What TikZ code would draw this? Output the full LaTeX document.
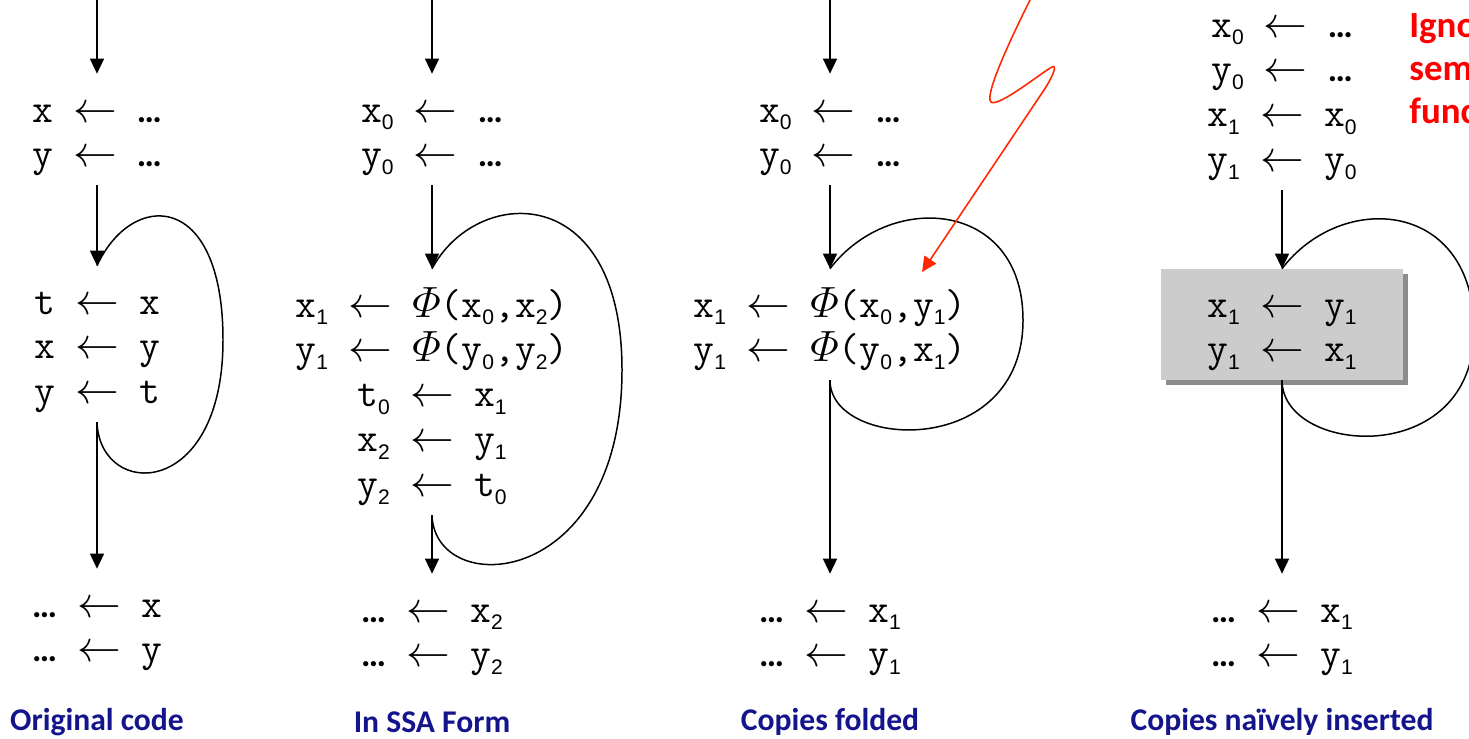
\documentclass[tikz,border=0pt]{standalone}
\usepackage{amsmath}
\usepackage{fontspec}
\usetikzlibrary{arrows.meta,shadows}
\newfontfamily\labelfont{Carlito}
\newfontfamily\subfont{Liberation Sans}
\definecolor{navy}{RGB}{20,20,140}
\definecolor{boltred}{RGB}{255,40,0}
\definecolor{boxgray}{RGB}{204,204,204}
\newcommand\idx[1]{\raisebox{-4.5pt}{\fontsize{12}{12}\selectfont\subfont #1}}
\newcommand\asg{\hspace{0.5em}$\leftarrow$\hspace{0.5em}}
\newcommand\elide{{\fontsize{20}{20}\selectfont\labelfont\bfseries\char"2026}}
\newcommand\blk[1]{\begin{tabular}[t]{@{}c@{}}#1\end{tabular}}
\tikzset{
  code/.style={font=\fontsize{23}{25.6}\selectfont\ttfamily, anchor=base,
    inner xsep=2pt, inner ysep=0pt, text height=0.96cm, text depth=#1},
  flow/.style={-{Triangle[width=0.28cm,length=0.3cm]}, line width=0.85pt},
  backedge/.style={line width=0.85pt},
  shaded/.style={fill=boxgray, minimum width=4.84cm,
    drop shadow={shadow xshift=3pt, shadow yshift=-3pt, fill=black, opacity=0.45}},
  caption/.style={font=\fontsize{18}{20}\selectfont\labelfont\bfseries, text=navy},
  note/.style={font=\fontsize{21}{24.6}\selectfont\labelfont\bfseries, text=red,
    anchor=base west, inner sep=0pt},
  bolt/.style={draw=boltred, line width=0.9pt, -{Triangle[width=0.28cm,length=0.3cm]}}
}
\begin{document}
\begin{tikzpicture}[x=0.02cm,y=-0.02cm]
  \useasboundingbox (0,0) rectangle (1469,738);
  \clip (0,0) rectangle (1469,738);

  % Original code
  \begin{scope}[shift={(97,0)}]
    \coordinate (o-top) at (0,0);
    \node[code=1.26cm] (o-in) at (0,122) {\blk{x\asg\elide\\ y\asg\elide}};
    \node[code=2.16cm] (o-body) at (0,314) {\blk{t\asg x\\ x\asg y\\ y\asg t}};
    \node[code=1.26cm] (o-out) at (0,617) {\blk{\elide\asg x\\ \elide\asg y}};
    \draw[flow] (o-top) -- (o-in);
    \draw[flow] (o-in) -- (o-body);
    \draw[flow] (o-body) -- (o-out);
    \draw[backedge] (o-body.south) .. controls (3,500) and (126,500) .. (126,340)
      .. controls (126,190) and (35,190) .. (o-body.north);
    \node[caption] (o-cap) at (0,722) {Original code};
  \end{scope}

  % In SSA form
  \begin{scope}[shift={(432,0)}]
    \coordinate (s-top) at (0,0);
    \node[code=1.26cm] (s-in) at (0,122) {\blk{x\idx0\asg\elide\\ y\idx0\asg\elide}};
    \node[code=3.96cm] (s-body) at (0,317) {\blk{x\idx1\asg$\varPhi$(x\idx0,x\idx2)\\
      y\idx1\asg$\varPhi$(y\idx0,y\idx2)\\ t\idx0\asg x\idx1\\ x\idx2\asg y\idx1\\ y\idx2\asg t\idx0}};
    \node[code=1.26cm] (s-out) at (0,622) {\blk{\elide\asg x\idx2\\ \elide\asg y\idx2}};
    \draw[flow] (s-top) -- (s-in);
    \draw[flow] (s-in) -- (s-body);
    \draw[flow] (s-body) -- (s-out);
    \draw[backedge] (s-body.south) .. controls (3,600) and (190,590) .. (190,370)
      .. controls (190,180) and (45,185) .. (s-body.north);
    \node[caption] (s-cap) at (0,722) {In SSA Form};
  \end{scope}

  % Copies folded
  \begin{scope}[shift={(830,0)}]
    \coordinate (f-top) at (0,0);
    \node[code=1.26cm] (f-in) at (0,122) {\blk{x\idx0\asg\elide\\ y\idx0\asg\elide}};
    \node[code=1.26cm] (f-body) at (0,317) {\blk{x\idx1\asg$\varPhi$(x\idx0,y\idx1)\\
      y\idx1\asg$\varPhi$(y\idx0,x\idx1)}};
    \node[code=1.26cm] (f-out) at (0,622) {\blk{\elide\asg x\idx1\\ \elide\asg y\idx1}};
    \draw[flow] (f-top) -- (f-in);
    \draw[flow] (f-in) -- (f-body);
    \draw[flow] (f-body) -- (f-out);
    \draw[backedge] (f-body.south) .. controls (0,450) and (193,460) .. (193,320)
      .. controls (193,200) and (60,190) .. (f-body.north);
    \node[caption] (f-cap) at (0,722) {Copies folded};
  \end{scope}

  % Copies naively inserted
  \begin{scope}[shift={(1282,0)}]
    \node[code=3.06cm, text height=0.6cm] (n-in) at (0,37) {\blk{x\idx0\asg\elide\\ y\idx0\asg\elide\\
      x\idx1\asg x\idx0\\ y\idx1\asg y\idx0}};
    \node[code=1.26cm, shaded] (n-body) at (0,317) {\blk{x\idx1\asg y\idx1\\ y\idx1\asg x\idx1}};
    \node[code=1.26cm] (n-out) at (0,622) {\blk{\elide\asg x\idx1\\ \elide\asg y\idx1}};
    \draw[flow] (n-in) -- (n-body);
    \draw[flow] (n-body) -- (n-out);
    \draw[backedge] (n-body.south) .. controls (0,455) and (192,470) .. (192,330)
      .. controls (192,200) and (60,190) .. (n-body.north);
    \node[caption] (n-cap) at (0,722) {Copies naïvely inserted};
  \end{scope}

  \node[note] (note) at (1409,37) {\begin{tabular}[t]{@{}l@{}}Igno\\ sem\\ func\end{tabular}};

  % lightning arrow
  \coordinate (bolt-top) at (1030,0);
  \coordinate (bolt-tip) at (922,272);
  \draw[bolt] (bolt-top) .. controls (1010,40) and (984,96) .. (991,102)
    .. controls (998,108) and (1045,70) .. (1052,67)
    .. controls (1058,64) and (1052,78) .. (1044,90) -- (bolt-tip);
\end{tikzpicture}
\end{document}
